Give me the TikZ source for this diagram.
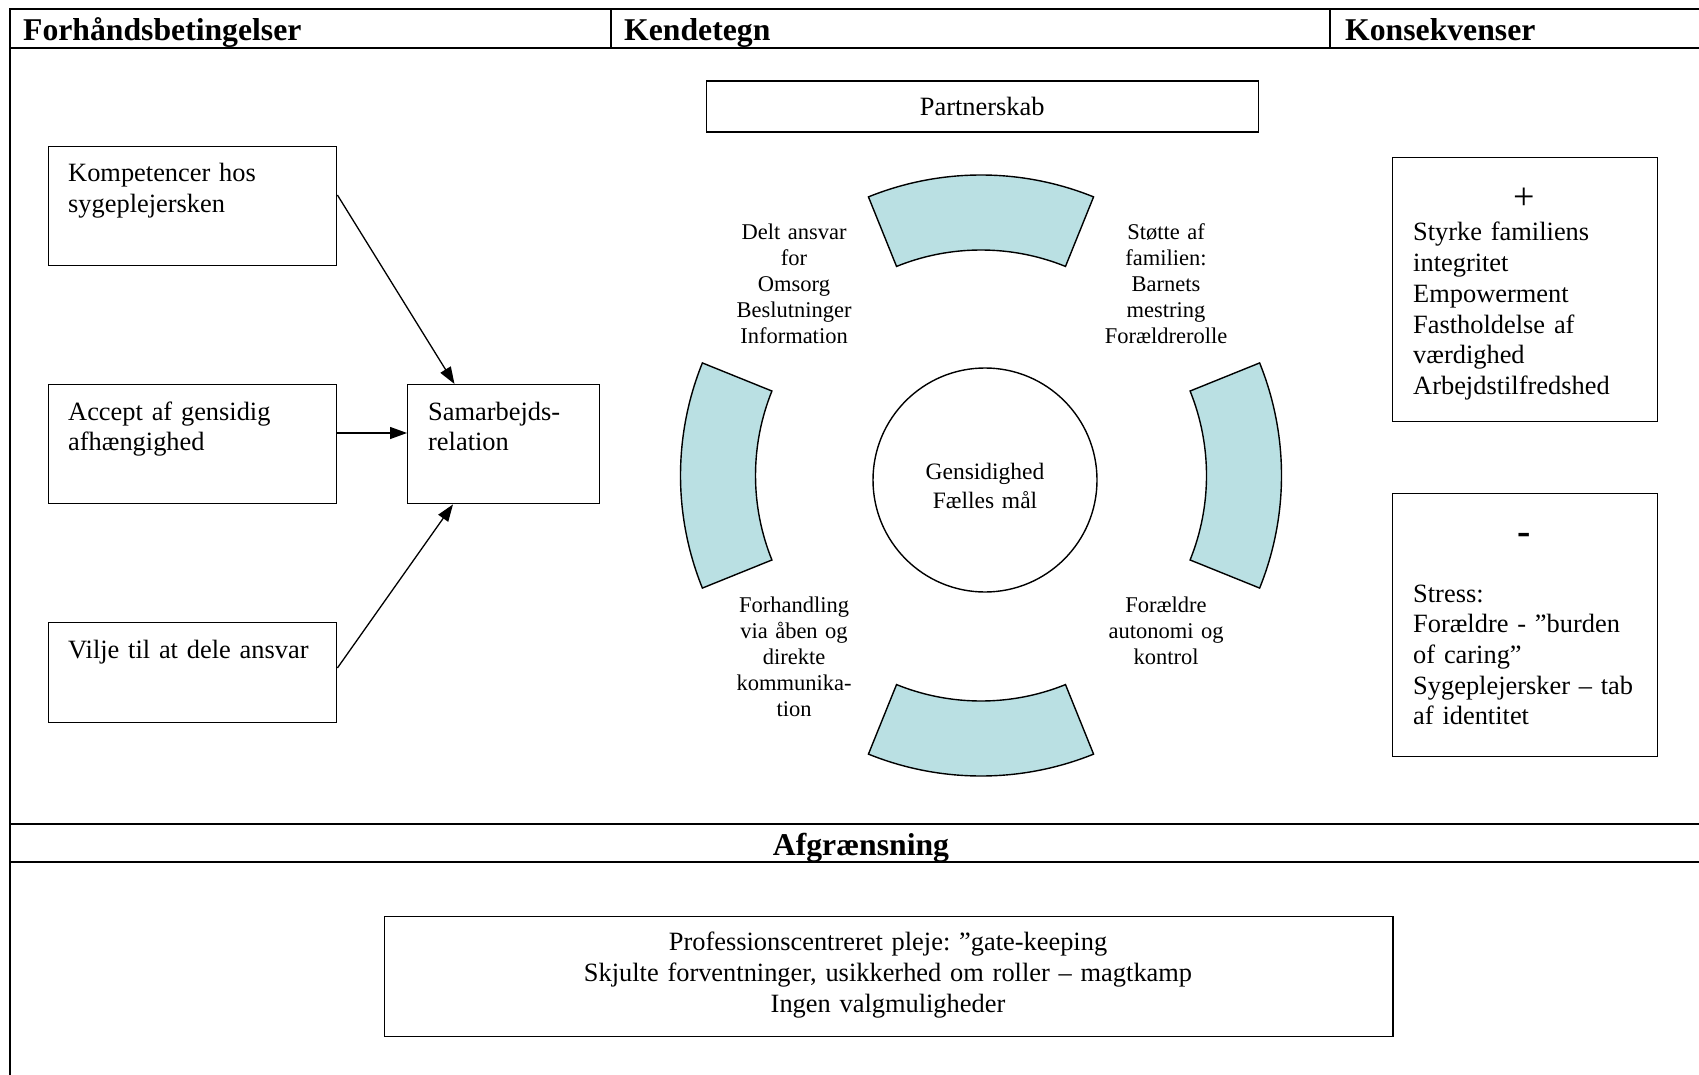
\documentclass[tikz,border=0pt]{standalone}
\usepackage{fontspec}
\setmainfont{Liberation Serif}
\usetikzlibrary{arrows.meta,calc}
\definecolor{segblue}{RGB}{186,224,227}
\frenchspacing
\tikzset{
  frameline/.style={line width=2pt},
  divline/.style={line width=1.5pt},
  boxshape/.style={draw, line width=1.4pt, rectangle, inner sep=0pt, anchor=north west},
  bodytext/.style={font=\fontsize{26.4}{30.7}\selectfont, inner sep=0pt, align=left, anchor=base west, text width=320pt},
  centertext/.style={font=\fontsize{26.4}{31}\selectfont, inner sep=0pt, align=center, anchor=base, text width=1000pt},
  ringlabel/.style={font=\fontsize{22.5}{26}\selectfont, inner sep=0pt, align=center, anchor=base, text width=180pt},
  headtext/.style={font=\fontsize{31.7}{36}\selectfont\bfseries, inner sep=0pt, anchor=base west},
  segment/.style={draw, fill=segblue, line width=1.4pt, line join=miter},
  conn/.style={line width=1.3pt, -{Triangle[length=17pt,width=12pt]}},
}
\begin{document}
\begin{tikzpicture}[x=1pt,y=-1pt]
\useasboundingbox (0,0) rectangle (1699,1075);
\clip (0,0) rectangle (1699,1075);
% frame
\draw[frameline] (10,1090) -- (10,9.5) -- (1720,9.5);
\draw[frameline] (10,48) -- (1720,48);
\draw[frameline] (10,824) -- (1720,824);
\draw[frameline] (10,861.5) -- (1720,861.5);
\draw[divline] (611,9.5) -- (611,48);
\draw[divline] (1330,9.5) -- (1330,48);

\node[headtext] (h1) at (23,41) {Forhåndsbetingelser};
\node[headtext] (h2) at (624,41) {Kendetegn};
\node[headtext] (h3) at (1345,41) {Konsekvenser};
\node[headtext, anchor=base] (h4) at (861,855) {Afgrænsning};

% left column
\node[boxshape, minimum width=288pt, minimum height=119pt] (k1) at (48,146) {};
\node[bodytext] (t1) at (68,182) {Kompetencer hos\\sygeplejersken};
\node[boxshape, minimum width=288pt, minimum height=119pt] (k2) at (48,384) {};
\node[bodytext] (t2) at (68,420) {Accept af gensidig\\afhængighed};
\node[boxshape, minimum width=288pt, minimum height=100pt] (k3) at (48,622) {};
\node[bodytext] (t3) at (68,658) {Vilje til at dele ansvar};
\node[boxshape, minimum width=192pt, minimum height=119pt] (s) at (407,384) {};
\node[bodytext] (ts) at (428,420) {Samarbejds-\\relation};

\draw[conn] ($(k1.north east)+(0,49)$) -- ($(s.north west)+(47.5,0)$);
\draw[conn] ($(k2.north east)+(0,49)$) -- ($(s.north west)+(0,49)$);
\draw[conn] ($(k3.north east)+(0,46)$) -- ($(s.south west)+(46,0)$);

% middle column
\node[boxshape, minimum width=552pt, minimum height=51pt, text depth=0pt,
      font=\fontsize{26.4}{30.7}\selectfont] (p) at (705.5,80.5) {Partnerskab};

\begin{scope}[shift={(981,475.5)}]
\foreach \a in {0,90,180,270}
  \draw[segment] (\a-22:300.5) arc[start angle=\a-22, end angle=\a+22, radius=300.5]
     -- (\a+22:225.5) arc[start angle=\a+22, end angle=\a-22, radius=225.5] -- cycle;
\end{scope}

\node[draw, circle, line width=1.4pt, minimum size=224pt, inner sep=0pt, fill=white] (c) at (985,480) {};
\node[ringlabel, font=\fontsize{23.5}{29}\selectfont, text width=200pt] (ct) at (985,479) {Gensidighed\\Fælles mål};

\node[ringlabel] (l1) at (794,240) {Delt ansvar\\for\\Omsorg\\Beslutninger\\Information};
\node[ringlabel] (l2) at (1166,240) {Støtte af\\familien:\\Barnets\\mestring\\Forældrerolle};
\node[ringlabel] (l3) at (794,612) {Forhandling\\via åben og\\direkte\\kommunika-\\tion};
\node[ringlabel] (l4) at (1166,612) {Forældre\\autonomi og\\kontrol};

% right column
\node[boxshape, minimum width=265pt, minimum height=264pt] (pb) at (1392,157) {};
\node[font=\fontsize{38}{40}\selectfont, inner sep=0pt] (plus) at (1524,199) {+};
\node[bodytext] (pbt) at (1413,241) {Styrke familiens\\integritet\\Empowerment\\Fastholdelse af\\værdighed\\Arbejdstilfredshed};
\node[boxshape, minimum width=265pt, minimum height=263pt] (mb) at (1392,493) {};
\node[font=\fontsize{40}{40}\selectfont\bfseries, inner sep=0pt] (minus) at (1524,539) {-};
\node[bodytext] (mbt) at (1413,602) {Stress:\\Forældre - ”burden\\of caring”\\Sygeplejersker – tab\\af identitet};

% bottom
\node[boxshape, line width=1.8pt, minimum width=1008.7pt, minimum height=120pt] (bb) at (383.6,915.5) {};
\node[centertext] (bbt) at (888,950) {Professionscentreret pleje: ”gate-keeping\\Skjulte forventninger, usikkerhed om roller – magtkamp\\Ingen valgmuligheder};
\end{tikzpicture}
\end{document}
